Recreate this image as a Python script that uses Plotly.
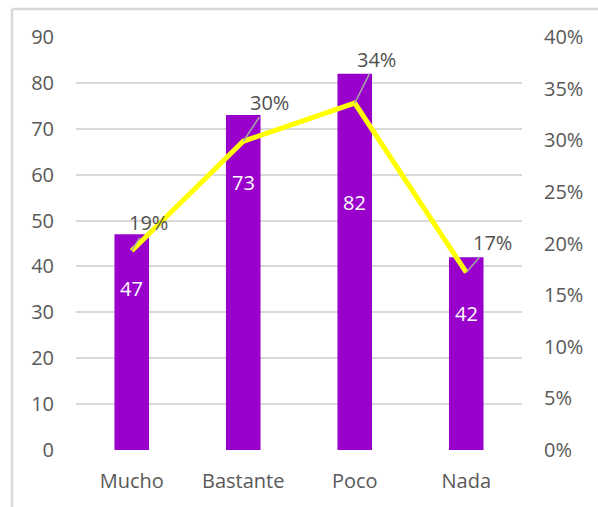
import plotly.graph_objects as go

# Survey answers, counts and share of total
categories = ["Mucho", "Bastante", "Poco", "Nada"]
counts = [47, 73, 82, 42]
shares = [0.193, 0.299, 0.336, 0.172]
share_labels = ["19%", "30%", "34%", "17%"]

left_ticks = list(range(0, 100, 10))
right_ticks = [0, 0.05, 0.10, 0.15, 0.20, 0.25, 0.30, 0.35, 0.40]
right_tick_text = ["0%", "5%", "10%", "15%", "20%", "25%", "30%", "35%", "40%"]

FONT = "Open Sans"
GREY = "#595959"
PURPLE = "#9900CC"
YELLOW = "#FFFF00"

fig = go.Figure()

fig.add_trace(go.Bar(
    x=categories, y=counts, marker=dict(color=PURPLE, line=dict(width=0)),
    yaxis="y", showlegend=False, hoverinfo="skip",
))

fig.add_trace(go.Scatter(
    x=categories, y=shares, mode="lines",
    line=dict(color=YELLOW, width=5),
    yaxis="y2", showlegend=False, hoverinfo="skip",
))

# white count labels inside the bars (pixel offsets below the bar top)
count_shift = [-54, -67, -129, -56]
for cat, val, dy in zip(categories, counts, count_shift):
    fig.add_annotation(
        x=cat, y=val, yref="y", text=str(val), showarrow=False,
        yshift=dy, font=dict(family=FONT, size=20, color="white"),
    )

# percentage labels with leader lines back to the line points
label_offsets = [(17, -28), (26, -39), (22, -44), (26, -30)]
for cat, val, txt, (ax, ay) in zip(categories, shares, share_labels, label_offsets):
    fig.add_annotation(
        x=cat, y=val, xref="x", yref="y2", text=txt,
        showarrow=True, arrowhead=0, arrowwidth=1.5, arrowcolor="#a6a6a6",
        ax=ax, ay=ay, standoff=0, startstandoff=0,
        font=dict(family=FONT, size=20, color="#505050"),
    )

# frame along the left and top edges
fig.add_shape(type="line", xref="paper", yref="paper",
              x0=(12 - 76) / 446, x1=(12 - 76) / 446,
              y0=(450 - 9) / 413, y1=(450 - 510) / 413,
              line=dict(color="#d9d9d9", width=2.5))
fig.add_shape(type="line", xref="paper", yref="paper",
              x0=(12 - 76) / 446, x1=(600 - 76) / 446,
              y0=(450 - 9) / 413, y1=(450 - 9) / 413,
              line=dict(color="#d9d9d9", width=2.5))

fig.update_layout(
    width=598, height=507,
    margin=dict(l=76, r=76, t=37, b=57),
    paper_bgcolor="white", plot_bgcolor="white",
    bargap=0.69,
    font=dict(family=FONT, size=20, color=GREY),
    xaxis=dict(
        showgrid=False, zeroline=False, showline=False,
        ticks="", tickfont=dict(family=FONT, size=20, color=GREY),
        ticklabelstandoff=17,
    ),
    yaxis=dict(
        range=[0, 90], tickvals=left_ticks,
        showgrid=True, gridcolor="#d9d9d9", gridwidth=1.5,
        zeroline=False, showline=False, ticks="",
        tickfont=dict(family=FONT, size=20, color=GREY),
        ticklabelstandoff=21,
    ),
    yaxis2=dict(
        range=[0, 0.4], tickvals=right_ticks, ticktext=right_tick_text,
        overlaying="y", side="right",
        showgrid=False, zeroline=False, showline=False, ticks="",
        tickfont=dict(family=FONT, size=20, color=GREY),
        ticklabelstandoff=21,
    ),
)

fig.write_html("out.html")
